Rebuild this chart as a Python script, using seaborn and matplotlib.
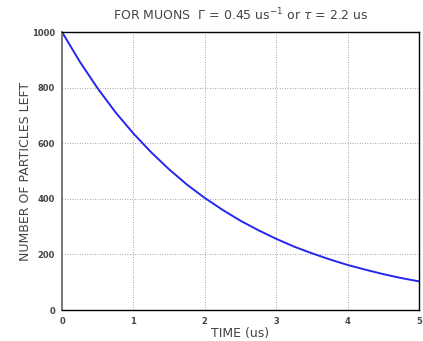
import matplotlib
matplotlib.use("Agg")
import matplotlib.pyplot as plt
import seaborn as sns
import pandas as pd

time_us = [0, 0.25, 0.5, 0.75, 1, 1.25, 1.5, 1.75, 2, 2.25, 2.5, 2.75, 3,
           3.25, 3.5, 3.75, 4, 4.25, 4.5, 4.75, 5]
particles_left = [1000, 893, 797, 711, 635, 567, 506, 451, 403, 360, 321, 287, 256,
                  228, 204, 182, 162, 145, 129, 115, 103]
x_ticks = [0, 1, 2, 3, 4, 5]
y_ticks = [0, 200, 400, 600, 800, 1000]

sns.set_style("white")
plt.rcParams['font.family'] = ['DejaVu Sans']

df = pd.DataFrame({"t": time_us, "n": particles_left})

fig = plt.figure(figsize=(4.23, 3.41), dpi=100)
ax = fig.add_axes([62/423, 1 - 310/341, (419-62)/423, (310-32)/341])
sns.lineplot(data=df, x="t", y="n", ax=ax, color="#2626f0", linewidth=1.4)

ax.set_xlim(0, 5)
ax.set_ylim(0, 1000)
ax.set_xticks(x_ticks)
ax.set_yticks(y_ticks)
ax.set_xticklabels([str(v) for v in x_ticks], fontsize=6, fontweight='bold', color='#444444')
ax.set_yticklabels([str(v) for v in y_ticks], fontsize=6, fontweight='bold', color='#444444')
ax.tick_params(axis='both', length=3, width=0.6, color='#999999', pad=2)
ax.grid(True, linestyle=(0, (1, 2)), color='#888888', linewidth=0.6)
for s in ax.spines.values():
    s.set_color('black')
    s.set_linewidth(1.0)
ax.spines['left'].set_color('#777777')
ax.spines['left'].set_linewidth(1.4)

ax.set_xlabel("TIME (us)", fontsize=9, color='#444444', labelpad=1)
ax.set_ylabel("NUMBER OF PARTICLES LEFT", fontsize=9, color='#444444', labelpad=0)
fig.text(241/423, 1 - 15/341, r"FOR MUONS  $\Gamma$ = 0.45 us$^{-1}$ or $\tau$ = 2.2 us",
         ha='center', va='center', fontsize=9, color='#444444')

fig.savefig("out.png", dpi=100)
